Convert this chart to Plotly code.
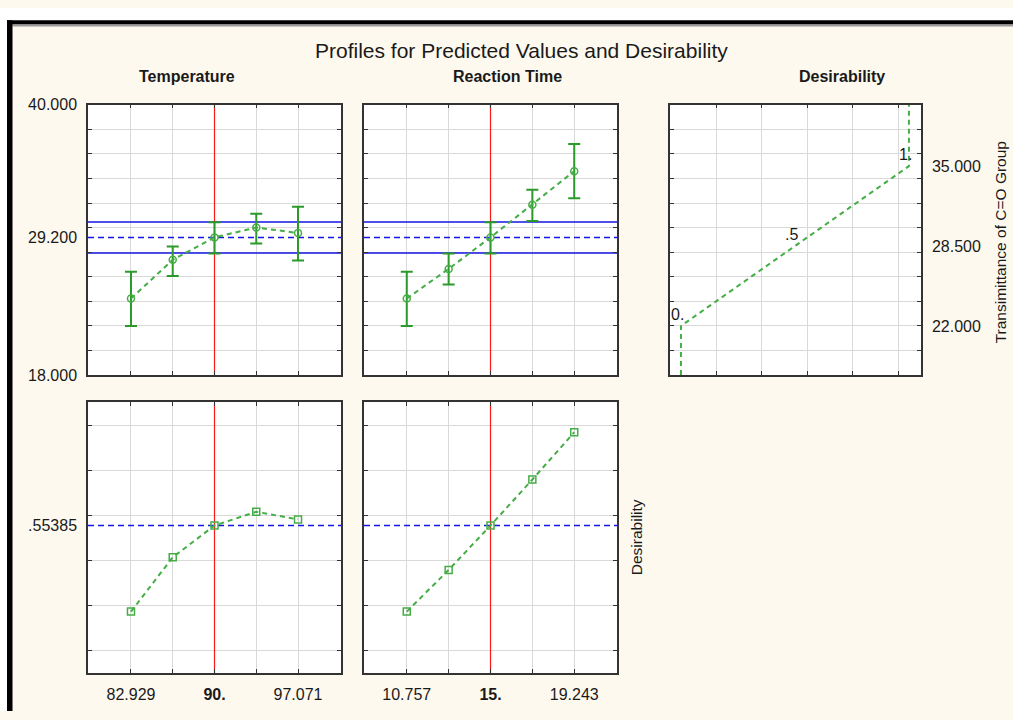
import plotly.graph_objects as go

# ---------------- data ----------------
temps = [82.929, 86.464, 90.0, 93.536, 97.071]
times = [10.757, 12.879, 15.0, 17.121, 19.243]
temp_ticktext = ["82.929", "", "<b>90.</b>", "", "97.071"]
time_ticktext = ["10.757", "", "<b>15.</b>", "", "19.243"]

resp_temp = [24.23, 27.38, 29.20, 30.01, 29.56]
lo_temp = [22.00, 26.06, 27.89, 28.71, 27.33]
hi_temp = [26.40, 28.47, 30.43, 31.12, 31.70]

resp_time = [24.23, 26.64, 29.20, 31.86, 34.59]
lo_time = [22.00, 25.37, 27.89, 30.54, 32.39]
hi_time = [26.40, 27.89, 30.43, 33.08, 36.79]

desir_temp = [0.172, 0.413, 0.554, 0.615, 0.581]
desir_time = [0.172, 0.357, 0.554, 0.758, 0.968]

current_temp = 90.0
current_time = 15.0
predicted = 29.2
pred_lo = 27.93
pred_hi = 30.45
current_desir = 0.55385

# desirability function: response vs desirability
dfun_d = [0.0, 0.0, 0.5, 1.0, 1.0]
dfun_resp = [18.0, 22.0, 28.5, 35.0, 40.0]
dfun_labels = ["0.", ".5", "1."]
dfun_label_d = [0.0, 0.5, 1.0]
dfun_label_resp = [22.0, 28.5, 35.0]

resp_range = [18, 40]
resp_grid = [20, 22, 24, 26, 28, 30, 32, 34, 36, 38]
resp_left_ticks = [18, 29.2, 40]
resp_left_text = ["18.000", "29.200", "40.000"]
resp_right_ticks = [22, 28.5, 35]
resp_right_text = ["22.000", "28.500", "35.000"]
des_range = [-0.1, 1.1]
des_grid = [0.0, 0.2, 0.4, 0.6, 0.8, 1.0]
des_grid_x = [current_desir + k * 0.2 for k in (-2, -1, 0, 1, 2)]
temp_rng = [79.29, 100.71]
time_rng = [8.59, 21.41]

# ---------------- styling ----------------
W, H = 1013, 720
FONT = "Liberation Sans, Arial, sans-serif"
BG = "#FEF9EE"
GRID = "#d9d9d9"
AXL = "#333333"
GREEN_LINE = "#45ad45"
GREEN_ERR = "#2b9a2b"
BLUE = "#1414e6"
RED = "#ff1a1a"
TXT = "#1a1a1a"


def dxp(a, b):
    return [a / W, b / W]


def dyp(top, bottom):
    return [1 - bottom / H, 1 - top / H]


COLX = [(88, 341), (364, 617), (670, 921)]
ROWY = [(99, 376), (404, 681)]

tickfont = dict(family=FONT, size=16, color=TXT)


def base_axis(**kw):
    d = dict(
        showline=True, linecolor=AXL, linewidth=1.5, mirror="ticks",
        ticks="inside", ticklen=4, tickcolor=AXL, tickwidth=1,
        showgrid=True, gridcolor=GRID, gridwidth=1.2, zeroline=False,
        tickfont=tickfont, fixedrange=True,
    )
    d.update(kw)
    return d


def yaxis_labeled(rng, grid, tv, tt, domain, anchor, side="left", show=True):
    return base_axis(
        range=rng, domain=domain, anchor=anchor, side=side,
        tickmode="array", tickvals=tv, ticktext=tt, showticklabels=show,
        ticks="", showgrid=False, ticklabelstandoff=6,
        minor=dict(tickmode="array", tickvals=grid, showgrid=True,
                   gridcolor=GRID, gridwidth=1.2, ticks="inside",
                   ticklen=4, tickcolor=AXL),
    )


fig = go.Figure()

layout_axes = dict(
    xaxis=base_axis(range=temp_rng, domain=dxp(*COLX[0]), anchor="y",
                    tickmode="array", tickvals=temps, showticklabels=False),
    xaxis2=base_axis(range=time_rng, domain=dxp(*COLX[1]), anchor="y2",
                     tickmode="array", tickvals=times, showticklabels=False),
    xaxis3=base_axis(range=[-0.048, 1.053], domain=dxp(*COLX[2]), anchor="y3",
                     tickmode="array", tickvals=des_grid_x, showticklabels=False),
    xaxis4=base_axis(range=temp_rng, domain=dxp(*COLX[0]), anchor="y4",
                     tickmode="array", tickvals=temps, ticktext=temp_ticktext,
                     ticklabelstandoff=6),
    xaxis5=base_axis(range=time_rng, domain=dxp(*COLX[1]), anchor="y5",
                     tickmode="array", tickvals=times, ticktext=time_ticktext,
                     ticklabelstandoff=6),
    yaxis=yaxis_labeled(resp_range, resp_grid, resp_left_ticks, resp_left_text,
                        dyp(*ROWY[0]), "x"),
    yaxis2=yaxis_labeled(resp_range, resp_grid, resp_left_ticks, resp_left_text,
                         dyp(*ROWY[0]), "x2", show=False),
    yaxis3=yaxis_labeled(resp_range, resp_grid, resp_right_ticks, resp_right_text,
                         dyp(*ROWY[0]), "x3", side="right"),
    yaxis4=yaxis_labeled(des_range, des_grid, [current_desir], [".55385"],
                         dyp(*ROWY[1]), "x4"),
    yaxis5=yaxis_labeled(des_range, des_grid, [current_desir], [".55385"],
                         dyp(*ROWY[1]), "x5", show=False),
)


def ref_line(xs, ys, xa, ya, color, dash="solid", width=1.5):
    fig.add_trace(go.Scatter(x=xs, y=ys, xaxis=xa, yaxis=ya, mode="lines",
                             line=dict(color=color, width=width, dash=dash),
                             showlegend=False, hoverinfo="skip"))


# reference lines (drawn first so data sits on top)
for rng, xa, ya, cur in [(temp_rng, "x", "y", current_temp),
                         (time_rng, "x2", "y2", current_time)]:
    ref_line(rng, [pred_hi, pred_hi], xa, ya, BLUE)
    ref_line(rng, [pred_lo, pred_lo], xa, ya, BLUE)
    ref_line(rng, [predicted, predicted], xa, ya, BLUE, dash="6px,4px")
    ref_line([cur, cur], resp_range, xa, ya, RED, width=1.2)
for rng, xa, ya, cur in [(temp_rng, "x4", "y4", current_temp),
                         (time_rng, "x5", "y5", current_time)]:
    ref_line(rng, [current_desir, current_desir], xa, ya, BLUE, dash="6px,4px")
    ref_line([cur, cur], des_range, xa, ya, RED, width=1.2)


def err(y, lo, hi):
    return dict(type="data", symmetric=False,
                array=[h - v for h, v in zip(hi, y)],
                arrayminus=[v - l for v, l in zip(y, lo)],
                color=GREEN_ERR, thickness=2, width=6)


# top row profiles
for xs, ys, lo, hi, xa, ya in [
    (temps, resp_temp, lo_temp, hi_temp, "x", "y"),
    (times, resp_time, lo_time, hi_time, "x2", "y2"),
]:
    fig.add_trace(go.Scatter(
        x=xs, y=ys, xaxis=xa, yaxis=ya, mode="lines+markers",
        line=dict(color=GREEN_LINE, width=2, dash="5px,4px"),
        marker=dict(symbol="circle-open", size=7, color=GREEN_LINE,
                    line=dict(width=1.5, color=GREEN_LINE)),
        error_y=err(ys, lo, hi), showlegend=False, hoverinfo="skip"))

# desirability function
fig.add_trace(go.Scatter(
    x=dfun_d, y=dfun_resp, xaxis="x3", yaxis="y3", mode="lines",
    line=dict(color=GREEN_LINE, width=2, dash="5px,4px"),
    showlegend=False, hoverinfo="skip"))

# bottom row desirability profiles
for xs, ys, xa, ya in [(temps, desir_temp, "x4", "y4"),
                       (times, desir_time, "x5", "y5")]:
    fig.add_trace(go.Scatter(
        x=xs, y=ys, xaxis=xa, yaxis=ya, mode="lines+markers",
        line=dict(color=GREEN_LINE, width=2, dash="5px,4px"),
        marker=dict(symbol="square-open", size=7, color=GREEN_LINE,
                    line=dict(width=1.5, color=GREEN_LINE)),
        showlegend=False, hoverinfo="skip"))

fig.update_layout(**layout_axes)

# page frame (white margin + black border)
shapes = [
    dict(type="rect", xref="paper", yref="paper", x0=0, x1=1, y0=1 - 12.5 / H, y1=1,
         fillcolor="white", line=dict(width=0), layer="below"),
    dict(type="rect", xref="paper", yref="paper", x0=0, x1=7 / W, y0=0, y1=1,
         fillcolor="white", line=dict(width=0), layer="below"),
    dict(type="rect", xref="paper", yref="paper", x0=7 / W, x1=1, y0=1 - 17 / H, y1=1 - 12.5 / H,
         fillcolor="black", line=dict(width=0), layer="below"),
    dict(type="rect", xref="paper", yref="paper", x0=12.5 / W, x1=1, y0=1 - 19 / H, y1=1 - 17 / H,
         fillcolor="#9a9a9a", line=dict(width=0), layer="below"),
    dict(type="rect", xref="paper", yref="paper", x0=7 / W, x1=12.5 / W, y0=0, y1=1 - 12.5 / H,
         fillcolor="black", line=dict(width=0), layer="below"),
]

annotations = [
    dict(text="Profiles for Predicted Values and Desirability", x=521 / W, y=1 - 44 / H,
         xref="paper", yref="paper", showarrow=False, xanchor="center", yanchor="middle",
         font=dict(family=FONT, size=21, color=TXT)),
]
for txt, cx in [("Temperature", 187), ("Reaction Time", 507), ("Desirability", 842)]:
    annotations.append(dict(text=f"<b>{txt}</b>", x=cx / W, y=1 - 70 / H, xref="paper",
                            yref="paper", showarrow=False, xanchor="center", yanchor="middle",
                            font=dict(family=FONT, size=16, color=TXT)))
annotations.append(dict(text="Transimittance of C=O Group", x=1000 / W, y=1 - 240 / H,
                        xref="paper", yref="paper", showarrow=False, textangle=-90,
                        xanchor="center", yanchor="middle",
                        font=dict(family=FONT, size=15.5, color=TXT)))
annotations.append(dict(text="Desirability", x=636 / W, y=1 - 542 / H,
                        xref="paper", yref="paper", showarrow=False, textangle=-90,
                        xanchor="center", yanchor="middle",
                        font=dict(family=FONT, size=15.5, color=TXT)))
for t, dv, rv in zip(dfun_labels, dfun_label_d, dfun_label_resp):
    annotations.append(dict(text=t, x=dv, y=rv, xref="x3", yref="y3", showarrow=False,
                            xanchor="center", yanchor="bottom", xshift=-3, yshift=1,
                            font=dict(family=FONT, size=16, color=TXT)))

fig.update_layout(
    width=W, height=H, margin=dict(l=0, r=0, t=0, b=0),
    paper_bgcolor=BG, plot_bgcolor="white",
    shapes=shapes, annotations=annotations, showlegend=False,
    font=dict(family=FONT, size=15, color=TXT),
)

fig.write_html("out.html")
